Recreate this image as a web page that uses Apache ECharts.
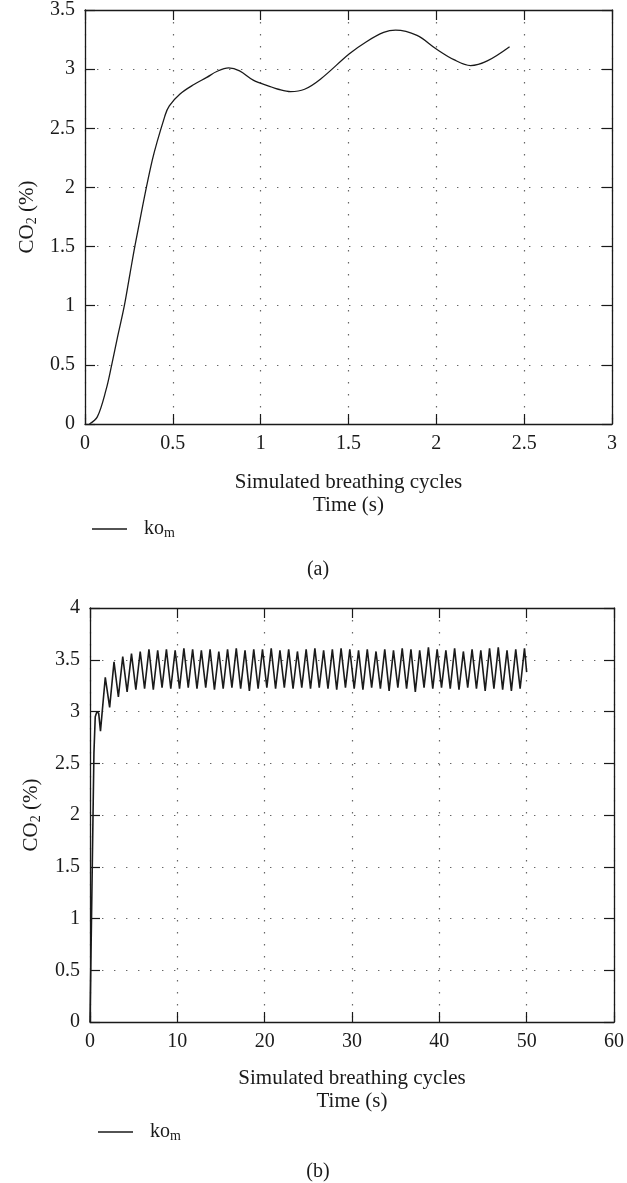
<!DOCTYPE html>
<html>
<head>
<meta charset="utf-8">
<script src="https://cdn.jsdelivr.net/npm/echarts@6/dist/echarts.min.js"></script>
<style>
  html, body { margin: 0; padding: 0; background: #fff; }
  #chart { width: 627px; height: 1183px; }
</style>
</head>
<body>
<div id="chart"></div>
<script>
// (a) one simulated breathing cycle, time (s) vs CO2 (%)
const timeA = [0.025, 0.07, 0.12, 0.152, 0.186, 0.224, 0.256, 0.29, 0.383, 0.456, 0.48, 0.541, 0.62, 0.693,
  0.75, 0.818, 0.88, 0.96, 1.05, 1.1, 1.17, 1.25, 1.34, 1.505, 1.6, 1.70, 1.768, 1.89, 2.00, 2.1, 2.195, 2.29, 2.417];
const co2A = [0, 0.06, 0.29, 0.5, 0.74, 1.0, 1.27, 1.55, 2.23, 2.61, 2.69, 2.79, 2.87, 2.93,
  2.98, 3.01, 2.985, 2.905, 2.855, 2.83, 2.81, 2.83, 2.915, 3.13, 3.23, 3.31, 3.33, 3.285, 3.17, 3.08, 3.03, 3.07, 3.19];

// (b) fifty simulated breathing cycles: [time, CO2]
const riseB = [[0, 0], [0.45, 2.6], [0.6, 2.95], [0.8, 3.0], [1.0, 2.98], [1.2, 2.81]];
const cyclesB = [
  [1.75, 3.33], [2.25, 3.04], [2.75, 3.48], [3.25, 3.14], [3.75, 3.53], [4.25, 3.19], [4.75, 3.56], [5.25, 3.21],
  [5.75, 3.58], [6.25, 3.22], [6.75, 3.60], [7.25, 3.21], [7.75, 3.59], [8.25, 3.23], [8.75, 3.60], [9.25, 3.22],
  [9.75, 3.59], [10.25, 3.22], [10.75, 3.61], [11.25, 3.23], [11.75, 3.60], [12.25, 3.22], [12.75, 3.59], [13.25, 3.23],
  [13.75, 3.60], [14.25, 3.21], [14.75, 3.58], [15.25, 3.22], [15.75, 3.60], [16.25, 3.23], [16.75, 3.61], [17.25, 3.22],
  [17.75, 3.59], [18.25, 3.20], [18.75, 3.60], [19.25, 3.22], [19.75, 3.60], [20.25, 3.23], [20.75, 3.61], [21.25, 3.22],
  [21.75, 3.59], [22.25, 3.23], [22.75, 3.60], [23.25, 3.22], [23.75, 3.58], [24.25, 3.23], [24.75, 3.60], [25.25, 3.22],
  [25.75, 3.61], [26.25, 3.23], [26.75, 3.59], [27.25, 3.22], [27.75, 3.60], [28.25, 3.21], [28.75, 3.61], [29.25, 3.23],
  [29.75, 3.60], [30.25, 3.22], [30.75, 3.59], [31.25, 3.21], [31.75, 3.60], [32.25, 3.23], [32.75, 3.58], [33.25, 3.22],
  [33.75, 3.60], [34.25, 3.20], [34.75, 3.59], [35.25, 3.23], [35.75, 3.61], [36.25, 3.22], [36.75, 3.60], [37.25, 3.19],
  [37.75, 3.59], [38.25, 3.23], [38.75, 3.62], [39.25, 3.22], [39.75, 3.60], [40.25, 3.23], [40.75, 3.59], [41.25, 3.22],
  [41.75, 3.61], [42.25, 3.21], [42.75, 3.58], [43.25, 3.23], [43.75, 3.60], [44.25, 3.22], [44.75, 3.59], [45.25, 3.20],
  [45.75, 3.61], [46.25, 3.22], [46.75, 3.62], [47.25, 3.21], [47.75, 3.59], [48.25, 3.20], [48.75, 3.60], [49.25, 3.22],
  [49.75, 3.61], [50, 3.38]
];

const xRangeA = [0, 3, 0.5];
const yRangeA = [0, 3.5, 0.5];
const xRangeB = [0, 60, 10];
const yRangeB = [0, 4, 0.5];

const serif = '"Liberation Serif", "Times New Roman", serif';
const ink = '#1a1a1a';

function axis(grid, range, pos, main, name, nameGap) {
  const a = {
    type: 'value', gridIndex: grid, position: pos,
    min: range[0], max: range[1], interval: range[2],
    axisLine: { show: true, onZero: false, lineStyle: { color: ink, width: 1.3 } },
    axisTick: { show: true, inside: true, length: 10, lineStyle: { color: ink, width: 1.2 } },
    axisLabel: { show: main, color: ink, fontFamily: serif, fontSize: 20, margin: 10 },
    splitLine: { show: main, lineStyle: { color: '#666', width: 1.2, type: [1.4, 10.6] } }
  };
  if (name) {
    a.name = name;
    a.nameLocation = 'middle';
    a.nameGap = nameGap;
    a.nameTextStyle = {
      color: ink, fontFamily: serif, fontSize: 21, lineHeight: 23,
      rich: { sub: { fontFamily: serif, fontSize: 14, color: ink, padding: [9, 0, 0, 0] } }
    };
  }
  return a;
}

const legendText = {
  color: ink, fontFamily: serif, fontSize: 20, padding: [0, 0, 0, 12],
  rich: { sub: { fontFamily: serif, fontSize: 14, color: ink, padding: [9, 0, 0, 0] } }
};

const option = {
  animation: false,
  backgroundColor: '#fff',
  title: [
    { text: '(a)', left: 313, top: 565, textAlign: 'center', textVerticalAlign: 'middle',
      textStyle: { color: ink, fontFamily: serif, fontSize: 20, fontWeight: 'normal' } },
    { text: '(b)', left: 313, top: 1167, textAlign: 'center', textVerticalAlign: 'middle',
      textStyle: { color: ink, fontFamily: serif, fontSize: 20, fontWeight: 'normal' } }
  ],
  legend: [
    { data: ['koA'], left: 87, top: 514, itemWidth: 35, itemHeight: 1.5, icon: 'rect',
      formatter: () => 'ko{sub|m}', textStyle: legendText, selectedMode: false },
    { data: ['koB'], left: 93, top: 1117, itemWidth: 35, itemHeight: 1.5, icon: 'rect',
      formatter: () => 'ko{sub|m}', textStyle: legendText, selectedMode: false }
  ],
  grid: [
    { left: 85, top: 9, width: 527, height: 415 },
    { left: 90, top: 608, width: 527, height: 414 }
  ],
  xAxis: [
    axis(0, xRangeA, 'bottom', true, 'Simulated breathing cycles\nTime (s)', 47),
    axis(0, xRangeA, 'top', false),
    axis(1, xRangeB, 'bottom', true, 'Simulated breathing cycles\nTime (s)', 45),
    axis(1, xRangeB, 'top', false)
  ],
  yAxis: [
    axis(0, yRangeA, 'left', true, 'CO{sub|2} (%)', 42),
    axis(0, yRangeA, 'right', false),
    axis(1, yRangeB, 'left', true, 'CO{sub|2} (%)', 47),
    axis(1, yRangeB, 'right', false)
  ],
  series: [
    { name: 'koA', type: 'line', xAxisIndex: 0, yAxisIndex: 0, showSymbol: false, smooth: 0.35,
      data: timeA.map((t, i) => [t, co2A[i]]),
      itemStyle: { color: ink }, lineStyle: { color: ink, width: 1.3 } },
    { name: 'koB', type: 'line', xAxisIndex: 2, yAxisIndex: 2, showSymbol: false,
      data: riseB.concat(cyclesB),
      itemStyle: { color: ink }, lineStyle: { color: ink, width: 1.6 } }
  ]
};

const chart = echarts.init(document.getElementById('chart'), null, { renderer: 'canvas' });
chart.setOption(option);
</script>
</body>
</html>
